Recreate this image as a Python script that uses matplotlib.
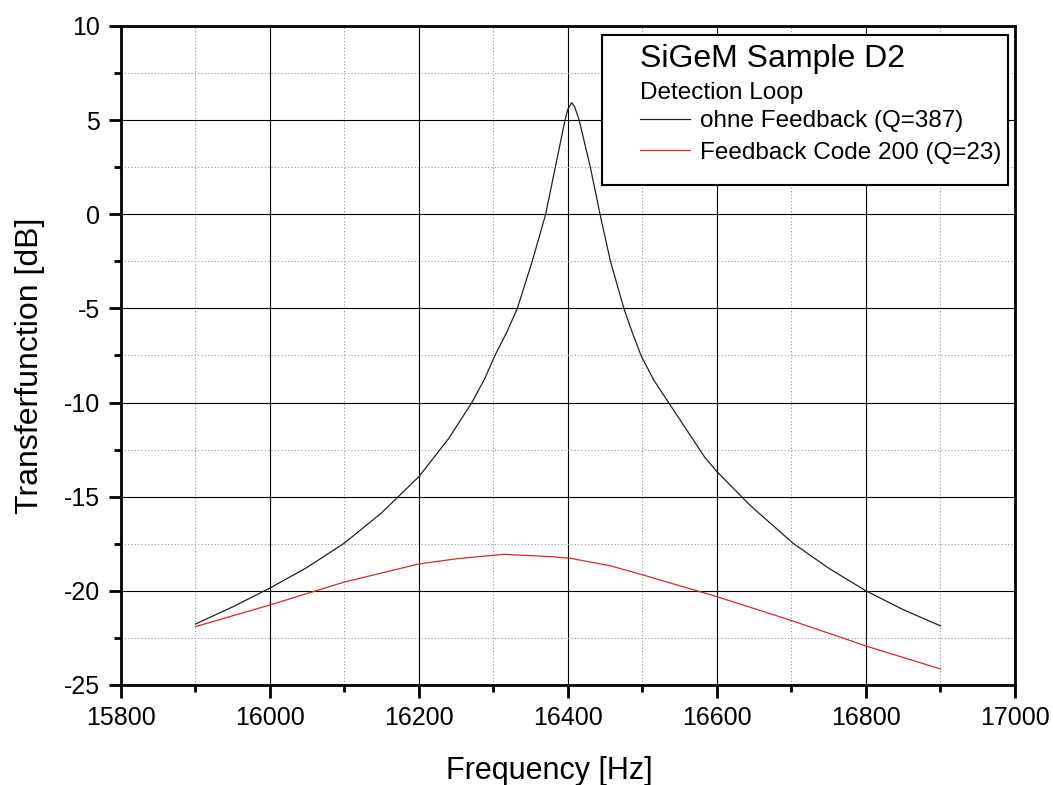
import matplotlib
matplotlib.use("Agg")
import matplotlib.pyplot as plt
from matplotlib.patches import Rectangle
from matplotlib.ticker import MultipleLocator

plt.rcParams['font.family'] = ['Liberation Sans', 'DejaVu Sans']
plt.rcParams['axes.unicode_minus'] = False

# black: ohne Feedback (Q=387)
f_black = [15900, 15950, 16000, 16050, 16100, 16150, 16200, 16240, 16271, 16288,
           16302, 16318, 16332, 16352, 16370, 16383, 16396, 16400, 16405, 16409,
           16415, 16430, 16443, 16457, 16475, 16486, 16498, 16515, 16535, 16584,
           16600, 16644, 16702, 16750, 16800, 16850, 16900]
h_black = [-21.76, -20.85, -19.85, -18.75, -17.46, -15.85, -13.93, -11.9, -10.0, -8.75,
           -7.5, -6.25, -5.0, -2.5, 0.0, 2.5, 5.0, 5.6, 5.93, 5.7,
           5.0, 2.5, 0.0, -2.5, -5.0, -6.25, -7.5, -8.8, -10.0, -12.93,
           -13.67, -15.44, -17.47, -18.8, -20.0, -21.0, -21.86]

# red: Feedback Code 200 (Q=23)
f_red = [15900, 16000, 16100, 16200, 16250, 16313, 16376, 16403, 16456, 16501,
         16600, 16698, 16770, 16800, 16900]
h_red = [-21.9, -20.75, -19.53, -18.57, -18.3, -18.06, -18.18, -18.27, -18.66, -19.16,
         -20.31, -21.55, -22.52, -22.93, -24.15]

fig = plt.figure(figsize=(10.53, 7.85), dpi=100)
ax = fig.add_axes([0.1149, 0.1274, 0.849, 0.8395])

l1, = ax.plot(f_black, h_black, color='#222222', lw=0.9, label='ohne Feedback (Q=387)')
l2, = ax.plot(f_red, h_red, color='#d42a2a', lw=0.9, label='Feedback Code 200 (Q=23)')

ax.set_xlim(15800, 17000)
ax.set_ylim(-25, 10)
ax.xaxis.set_major_locator(MultipleLocator(200))
ax.xaxis.set_minor_locator(MultipleLocator(100))
ax.yaxis.set_major_locator(MultipleLocator(5))
ax.yaxis.set_minor_locator(MultipleLocator(2.5))

ax.grid(which='major', color='black', lw=0.8)
ax.grid(which='minor', color='#999999', lw=0.8, ls=(0, (1, 2)))
ax.set_axisbelow(True)

for s in ax.spines.values():
    s.set_linewidth(2)
ax.tick_params(which='both', direction='out', width=2, labelsize=18,
               top=False, right=False)
ax.tick_params(which='major', length=9, pad=6)
ax.tick_params(which='minor', length=5)

ax.set_xlabel('Frequency [Hz]', fontsize=22)
ax.set_ylabel('Transferfunction [dB]', fontsize=23)
ax.xaxis.set_label_coords(0.479, -0.108)
ax.yaxis.set_label_coords(-0.085, 0.484)

# legend box
ax.add_patch(Rectangle((0.538, 0.759), 0.454, 0.227, transform=ax.transAxes,
                       facecolor='white', edgecolor='black', lw=1.5, zorder=5))
ax.text(0.5805, 0.938, 'SiGeM Sample D2', transform=ax.transAxes,
        fontsize=23, va='baseline', zorder=6)
ax.text(0.5805, 0.889, 'Detection Loop', transform=ax.transAxes,
        fontsize=17.5, va='baseline', zorder=6)
leg = ax.legend(handles=[l1, l2], loc='upper left',
                bbox_to_anchor=(0.5805, 0.872), frameon=False, fontsize=17.5,
                borderpad=0, handlelength=2.05, handletextpad=0.4,
                labelspacing=0.38, borderaxespad=0)
leg.set_zorder(7)

fig.savefig('out.png', dpi=100)
